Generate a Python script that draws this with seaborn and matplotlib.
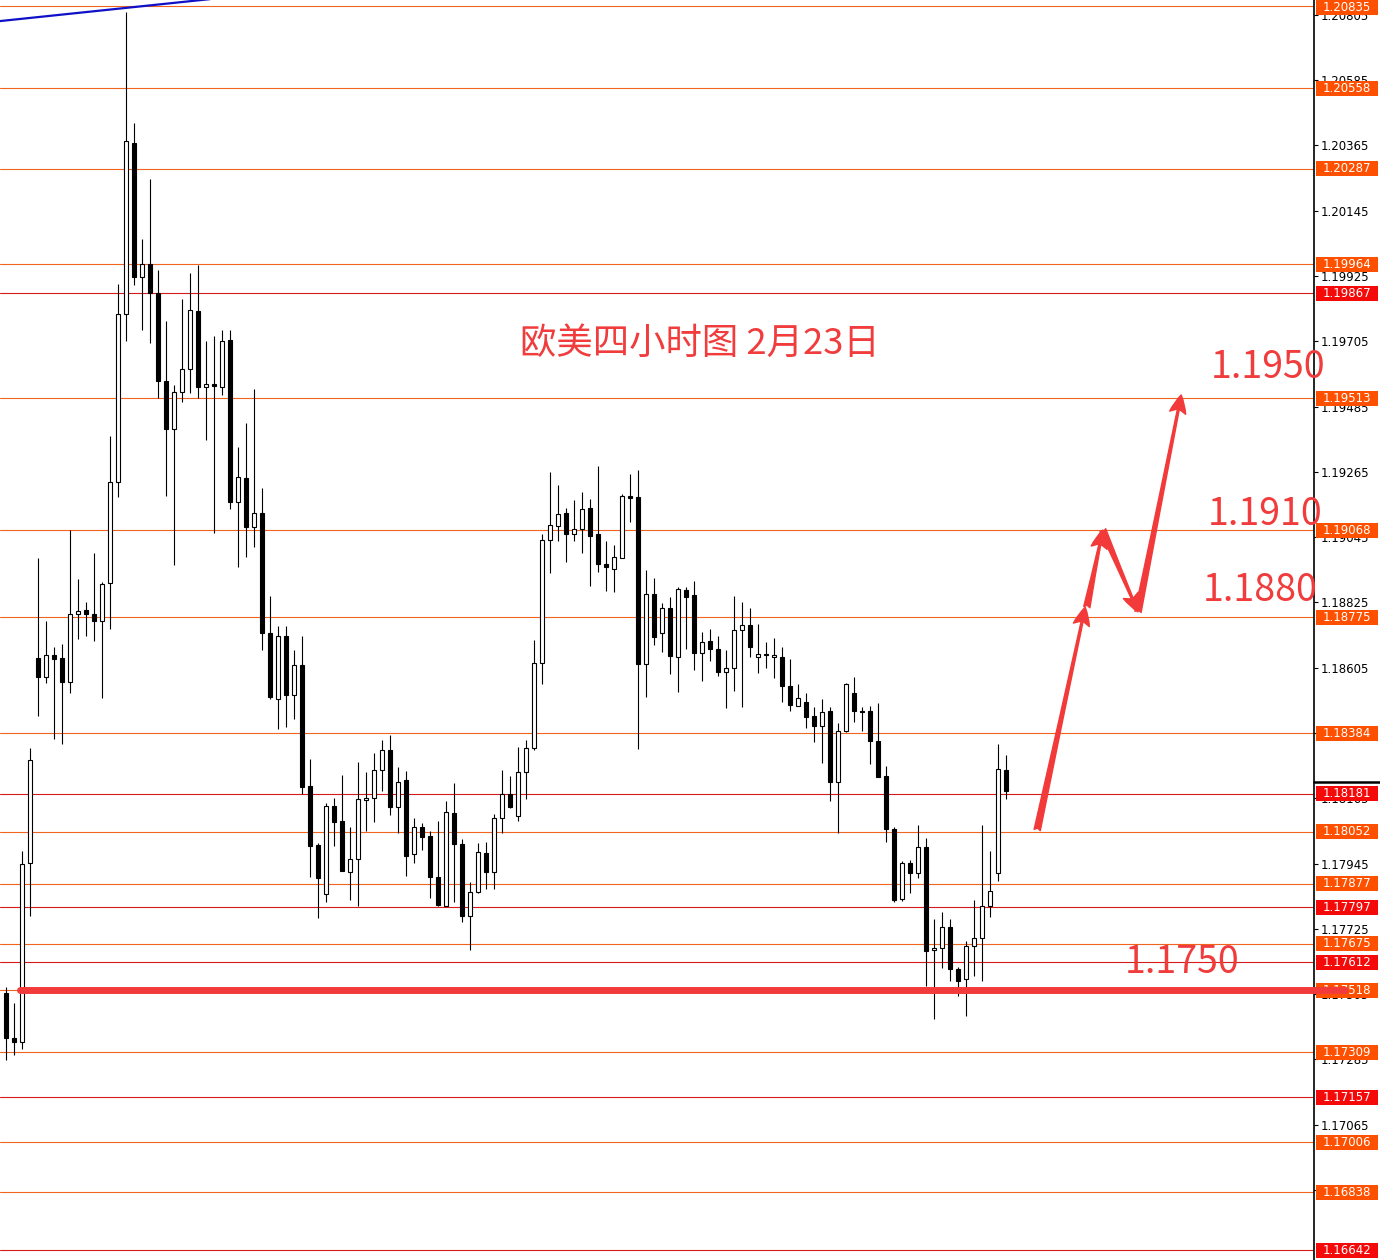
import numpy as np
import matplotlib
matplotlib.use("Agg")
import matplotlib.pyplot as plt
import matplotlib.transforms as mtransforms
from matplotlib.patches import Rectangle
import seaborn as sns

# EURUSD 4H candles
opens = [
    1.17509, 1.17357, 1.17343, 1.17947, 1.18637, 1.18574, 1.18648, 1.18637, 1.18557, 1.18786,
    1.18799, 1.18786, 1.18762, 1.18890, 1.19231, 1.19797, 1.20373, 1.19922, 1.19965, 1.19868,
    1.19571, 1.19409, 1.19534, 1.19612, 1.19807, 1.19551, 1.19561, 1.19551, 1.19709, 1.19163,
    1.19244, 1.19079, 1.19126, 1.18722, 1.18499, 1.18712, 1.18513, 1.18614, 1.18206, 1.18007,
    1.17842, 1.18139, 1.18088, 1.17916, 1.17960, 1.18159, 1.18166, 1.18260, 1.18328, 1.18135,
    1.18226, 1.17977, 1.18068, 1.18038, 1.17900, 1.17802, 1.18115, 1.18011, 1.17768, 1.17849,
    1.17980, 1.17916, 1.18098, 1.18179, 1.18105, 1.18253, 1.18334, 1.18621, 1.19035, 1.19082,
    1.19126, 1.19055, 1.19072, 1.19143, 1.19055, 1.18954, 1.18938, 1.18975, 1.19184, 1.19180,
    1.18617, 1.18852, 1.18722, 1.18806, 1.18641, 1.18867, 1.18850, 1.18654, 1.18695, 1.18668,
    1.18590, 1.18604, 1.18732, 1.18749, 1.18641, 1.18651, 1.18641, 1.18641, 1.18543, 1.18476,
    1.18489, 1.18442, 1.18410, 1.18459, 1.18220, 1.18392, 1.18520, 1.18459, 1.18459, 1.18358,
    1.18240, 1.18061, 1.17825, 1.17947, 1.17913, 1.18001, 1.17653, 1.17660, 1.17731, 1.17590,
    1.17556, 1.17667, 1.17694, 1.17802, 1.17913, 1.18260]
highs = [
    1.17529, 1.17475, 1.17987, 1.18334, 1.18975, 1.18762, 1.18675, 1.18685, 1.19069, 1.18904,
    1.18826, 1.18991, 1.18894, 1.19386, 1.19898, 1.20815, 1.20441, 1.20050, 1.20252, 1.19945,
    1.19773, 1.19558, 1.19847, 1.19935, 1.19962, 1.19706, 1.19723, 1.19743, 1.19743, 1.19349,
    1.19430, 1.19544, 1.19210, 1.18847, 1.18745, 1.18745, 1.18665, 1.18712, 1.18297, 1.18014,
    1.18149, 1.18166, 1.18243, 1.18068, 1.18287, 1.18253, 1.18317, 1.18361, 1.18378, 1.18270,
    1.18257, 1.18098, 1.18082, 1.18055, 1.18088, 1.18156, 1.18216, 1.18028, 1.17883, 1.18014,
    1.18018, 1.18112, 1.18260, 1.18240, 1.18338, 1.18361, 1.18698, 1.19055, 1.19264, 1.19221,
    1.19143, 1.19170, 1.19197, 1.19173, 1.19285, 1.19032, 1.19018, 1.19190, 1.19258, 1.19271,
    1.18934, 1.18907, 1.18823, 1.18843, 1.18877, 1.18877, 1.18897, 1.18725, 1.18735, 1.18712,
    1.18665, 1.18847, 1.18826, 1.18806, 1.18752, 1.18691, 1.18705, 1.18675, 1.18634, 1.18550,
    1.18520, 1.18472, 1.18499, 1.18472, 1.18419, 1.18553, 1.18574, 1.18472, 1.18476, 1.18486,
    1.18274, 1.18068, 1.17953, 1.17957, 1.18075, 1.18031, 1.17758, 1.17782, 1.17758, 1.17596,
    1.17684, 1.17822, 1.18075, 1.17987, 1.18348, 1.18311]
lows = [
    1.17283, 1.17300, 1.17320, 1.17768, 1.18442, 1.18553, 1.18365, 1.18348, 1.18520, 1.18702,
    1.18712, 1.18695, 1.18503, 1.18735, 1.19180, 1.19706, 1.19895, 1.19743, 1.19699, 1.19514,
    1.19184, 1.18951, 1.19500, 1.19531, 1.19514, 1.19372, 1.19059, 1.19524, 1.19140, 1.18944,
    1.18978, 1.19012, 1.18665, 1.18499, 1.18398, 1.18405, 1.18432, 1.18179, 1.17900, 1.17761,
    1.17815, 1.18004, 1.17920, 1.17822, 1.17802, 1.18055, 1.18085, 1.18189, 1.18108, 1.18048,
    1.17903, 1.17947, 1.17991, 1.17829, 1.17802, 1.17802, 1.17815, 1.17748, 1.17653, 1.17846,
    1.17859, 1.17859, 1.18048, 1.18132, 1.18088, 1.18162, 1.18328, 1.18550, 1.18924, 1.19032,
    1.18961, 1.19032, 1.18991, 1.18880, 1.18927, 1.18863, 1.18860, 1.18975, 1.19096, 1.18331,
    1.18506, 1.18681, 1.18658, 1.18584, 1.18523, 1.18668, 1.18597, 1.18560, 1.18627, 1.18577,
    1.18469, 1.18526, 1.18472, 1.18641, 1.18587, 1.18604, 1.18570, 1.18489, 1.18459, 1.18476,
    1.18402, 1.18355, 1.18284, 1.18156, 1.18048, 1.18388, 1.18422, 1.18392, 1.18280, 1.18237,
    1.18018, 1.17815, 1.17819, 1.17846, 1.17896, 1.17532, 1.17421, 1.17593, 1.17549, 1.17499,
    1.17431, 1.17566, 1.17549, 1.17765, 1.17886, 1.18162]
closes = [
    1.17357, 1.17343, 1.17943, 1.18294, 1.18574, 1.18648, 1.18634, 1.18557, 1.18786, 1.18796,
    1.18786, 1.18762, 1.18887, 1.19231, 1.19797, 1.20380, 1.19922, 1.19965, 1.19868, 1.19571,
    1.19409, 1.19534, 1.19612, 1.19810, 1.19551, 1.19561, 1.19554, 1.19706, 1.19163, 1.19248,
    1.19079, 1.19126, 1.18722, 1.18506, 1.18712, 1.18513, 1.18614, 1.18203, 1.18004, 1.17896,
    1.18139, 1.18085, 1.17920, 1.17960, 1.18162, 1.18166, 1.18260, 1.18328, 1.18135, 1.18220,
    1.17970, 1.18068, 1.18034, 1.17900, 1.17805, 1.18119, 1.18011, 1.17768, 1.17849, 1.17984,
    1.17916, 1.18098, 1.18179, 1.18135, 1.18253, 1.18334, 1.18621, 1.19035, 1.19086, 1.19123,
    1.19055, 1.19072, 1.19140, 1.19049, 1.18954, 1.18944, 1.18978, 1.19184, 1.19177, 1.18617,
    1.18852, 1.18708, 1.18806, 1.18644, 1.18870, 1.18843, 1.18654, 1.18691, 1.18668, 1.18590,
    1.18604, 1.18732, 1.18749, 1.18675, 1.18651, 1.18648, 1.18648, 1.18543, 1.18479, 1.18503,
    1.18439, 1.18410, 1.18456, 1.18220, 1.18392, 1.18550, 1.18459, 1.18456, 1.18358, 1.18237,
    1.18061, 1.17822, 1.17947, 1.17913, 1.18001, 1.17650, 1.17660, 1.17731, 1.17590, 1.17549,
    1.17667, 1.17694, 1.17802, 1.17852, 1.18264, 1.18189]

# horizontal levels drawn on the chart
orange_levels = [1.20835, 1.20558, 1.20287, 1.19964, 1.19513, 1.19068, 1.18775, 1.18384,
                 1.18052, 1.17877, 1.17675, 1.17518, 1.17309, 1.17006, 1.16838]
red_levels = [1.19867, 1.18181, 1.17797, 1.17612, 1.17157, 1.16642]

axis_ticks = [1.20805, 1.20585, 1.20365, 1.20145, 1.19925, 1.19705, 1.19485, 1.19265,
              1.19045, 1.18825, 1.18605, 1.18385, 1.18165, 1.17945, 1.17725, 1.17505,
              1.17285, 1.17065, 1.16845]

# drawings: trend line, support line, forecast arrows, target texts
trend_x = [-0.75, 25.5]
trend_y = [1.20784, 1.20858]
support_x = [1.75, 167.4]
support_y = [1.17519, 1.17519]
bid_price = 1.18220
arrow_paths = [((128.9, 1.18058), (134.9, 1.18809)),
               ((135.1, 1.18809), (137.1, 1.19069)),
               ((137.1, 1.19069), (141.5, 1.18793)),
               ((141.5, 1.18793), (146.9, 1.19524))]
targets = [("1.1950", 157.75, 1.19616), ("1.1910", 157.4, 1.19120),
           ("1.1880", 156.75, 1.18864), ("1.1750", 147.0, 1.17610)]
title_text = "欧美四小时图 2月23日"

Y_TOP, Y_BOT = 1.20855, 1.16609
RED_TXT = "#f03c3c"
CJK = ["Noto Sans CJK SC", "DejaVu Sans"]

sns.set_style("white")
plt.rcParams["font.family"] = ["DejaVu Sans"]

fig = plt.figure(figsize=(13.8, 12.6), dpi=100)
ax = fig.add_axes([0, 0, 1314 / 1380, 1])
ax.set_xlim(-0.75, 163.5)
ax.set_ylim(Y_BOT, Y_TOP)

for lv in orange_levels:
    ax.axhline(lv, color="#f0641e", lw=0.8, zorder=1)
for lv in red_levels:
    ax.axhline(lv, color="#d41c1c", lw=0.8, zorder=1)

# candles
o = np.array(opens)
c = np.array(closes)
idx = np.arange(len(o))
up = c >= o
ax.vlines(idx, lows, highs, color="black", lw=0.8, zorder=3)
ax.bar(idx, np.abs(c - o), bottom=np.minimum(o, c), width=0.55,
       color=np.where(up, "white", "black"), edgecolor="black", linewidth=0.8, zorder=4)

# blue trend line
sns.lineplot(x=trend_x, y=trend_y, color="#1010c8", lw=1.6, ax=ax, zorder=5)

# thick support line
ax.plot(support_x, support_y, color="#f23a3a", lw=5, solid_capstyle="round",
        clip_on=False, zorder=9)

# forecast arrows
for (x0, y0), (x1, y1) in arrow_paths:
    ax.annotate("", xy=(x1, y1), xytext=(x0, y0),
                arrowprops=dict(arrowstyle="fancy,head_length=1.0,head_width=0.9,tail_width=0.35",
                                color="#f23a3a", shrinkA=0, shrinkB=0, mutation_scale=13),
                zorder=8)

for txt, x, y in targets:
    ax.text(x, y, txt, ha="center", va="center", fontsize=27, color=RED_TXT,
            family=CJK, clip_on=False, zorder=8)
ax.text(86.75, 1.19698, title_text, ha="center", va="center", fontsize=26.2,
        color=RED_TXT, family=CJK, zorder=8)

# right price axis
for s in ["top", "left", "bottom"]:
    ax.spines[s].set_visible(False)
ax.spines["right"].set_color("black")
ax.spines["right"].set_linewidth(1.2)
ax.set_xticks([])
ax.yaxis.tick_right()
ax.set_yticks(axis_ticks)
ax.set_yticklabels([f"{t:.5f}" for t in axis_ticks])
ax.tick_params(axis="y", direction="out", length=3, width=0.8, pad=2,
               labelsize=8.5, colors="black")

trans = mtransforms.blended_transform_factory(ax.transAxes, ax.transData)
px = (Y_TOP - Y_BOT) / 1260
box_h = 15 * px
ax.plot([1.0, 1380 / 1314], [bid_price, bid_price], color="black", lw=1.8,
        transform=trans, clip_on=False, zorder=6)
levels = [(lv, "#ff5000") for lv in orange_levels] + [(lv, "#f50a0a") for lv in red_levels]
for lv, col in levels:
    yc = min(lv, Y_TOP - box_h / 2)
    ax.add_patch(Rectangle((1316 / 1314, yc - box_h / 2), 62 / 1314, box_h,
                           transform=trans, facecolor=col, edgecolor="none",
                           clip_on=False, zorder=6))
    ax.text(1347 / 1314, yc, f"{lv:.5f}", transform=trans, ha="center", va="center",
            color="white", fontsize=8.5, clip_on=False, zorder=7)

fig.savefig("out.png", dpi=100, facecolor="white")
